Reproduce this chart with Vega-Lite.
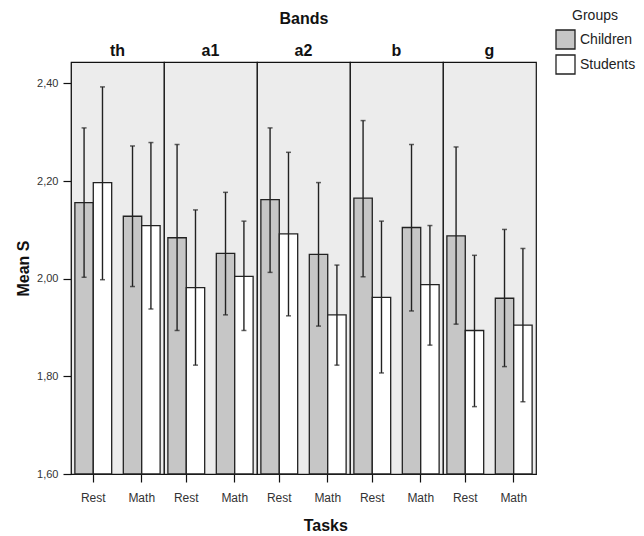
{
  "$schema": "https://vega.github.io/schema/vega-lite/v6.json",
  "padding": {"left": 15, "top": 9, "right": 5, "bottom": 5},
  "background": "white",
  "bounds": "flush",
  "config": {
    "font": "Liberation Sans",
    "view": {"stroke": "#111", "strokeWidth": 1.2, "fill": "#ececec"}
  },
  "title": {"text": "Tasks", "orient": "bottom", "fontSize": 16, "fontWeight": "bold", "color": "#111", "offset": 15, "anchor": "middle"},
  "data": {"values": [
    {"band": "th", "task": "Rest", "group": "Children", "mean": 2.156, "lo": 2.003, "hi": 2.309},
    {"band": "th", "task": "Rest", "group": "Students", "mean": 2.197, "lo": 1.998, "hi": 2.393},
    {"band": "th", "task": "Math", "group": "Children", "mean": 2.128, "lo": 1.984, "hi": 2.272},
    {"band": "th", "task": "Math", "group": "Students", "mean": 2.109, "lo": 1.938, "hi": 2.279},
    {"band": "a1", "task": "Rest", "group": "Children", "mean": 2.084, "lo": 1.894, "hi": 2.275},
    {"band": "a1", "task": "Rest", "group": "Students", "mean": 1.982, "lo": 1.823, "hi": 2.141},
    {"band": "a1", "task": "Math", "group": "Children", "mean": 2.052, "lo": 1.926, "hi": 2.177},
    {"band": "a1", "task": "Math", "group": "Students", "mean": 2.005, "lo": 1.894, "hi": 2.118},
    {"band": "a2", "task": "Rest", "group": "Children", "mean": 2.162, "lo": 2.013, "hi": 2.309},
    {"band": "a2", "task": "Rest", "group": "Students", "mean": 2.092, "lo": 1.924, "hi": 2.259},
    {"band": "a2", "task": "Math", "group": "Children", "mean": 2.050, "lo": 1.903, "hi": 2.197},
    {"band": "a2", "task": "Math", "group": "Students", "mean": 1.926, "lo": 1.823, "hi": 2.028},
    {"band": "b", "task": "Rest", "group": "Children", "mean": 2.165, "lo": 2.004, "hi": 2.324},
    {"band": "b", "task": "Rest", "group": "Students", "mean": 1.962, "lo": 1.807, "hi": 2.118},
    {"band": "b", "task": "Math", "group": "Children", "mean": 2.105, "lo": 1.934, "hi": 2.275},
    {"band": "b", "task": "Math", "group": "Students", "mean": 1.988, "lo": 1.864, "hi": 2.109},
    {"band": "g", "task": "Rest", "group": "Children", "mean": 2.088, "lo": 1.907, "hi": 2.270},
    {"band": "g", "task": "Rest", "group": "Students", "mean": 1.894, "lo": 1.738, "hi": 2.048},
    {"band": "g", "task": "Math", "group": "Children", "mean": 1.960, "lo": 1.820, "hi": 2.101},
    {"band": "g", "task": "Math", "group": "Students", "mean": 1.905, "lo": 1.748, "hi": 2.062}
  ]},
  "facet": {
    "column": {
      "field": "band", "type": "nominal", "sort": ["th", "a1", "a2", "b", "g"],
      "title": "Bands",
      "header": {
        "titleFontSize": 16, "titleFontWeight": "bold", "titleColor": "#111", "titlePadding": 6,
        "labelFontSize": 16, "labelFontWeight": "bold", "labelColor": "#111", "labelPadding": 3
      }
    }
  },
  "spacing": 0,
  "spec": {
    "width": 93,
    "height": 412,
    "encoding": {
      "x": {
        "field": "task", "type": "nominal", "sort": ["Rest", "Math"],
        "scale": {"paddingInner": 0.24, "paddingOuter": 0.08},
        "axis": {"title": null, "labelAngle": 0, "labelFontSize": 12, "labelColor": "#333", "tickColor": "#111", "tickSize": 8, "tickWidth": 1.2, "domainColor": "#111", "domainWidth": 1.2, "labelPadding": 10}
      },
      "xOffset": {"field": "group", "type": "nominal", "sort": ["Children", "Students"]}
    },
    "layer": [
      {
        "mark": {"type": "bar", "stroke": "#222", "strokeWidth": 1.3},
        "encoding": {
          "y": {
            "field": "mean", "type": "quantitative",
            "scale": {"domain": [1.6, 2.444], "nice": false, "zero": false},
            "axis": {
              "title": "Mean S", "titleFontSize": 16, "titleFontWeight": "bold", "titleColor": "#111", "titlePadding": 5,
              "values": [1.6, 1.8, 2.0, 2.2, 2.4],
              "labelExpr": "replace(format(datum.value, '.2f'), '.', ',')",
              "labelFontSize": 11, "labelColor": "#333", "labelPadding": 5, "tickColor": "#111", "tickSize": 8, "tickWidth": 1.2, "domainColor": "#111", "domainWidth": 1.2, "grid": false
            }
          },
          "y2": {"datum": 1.6},
          "fill": {
            "field": "group", "type": "nominal",
            "scale": {"domain": ["Children", "Students"], "range": ["#c6c6c6", "#ffffff"]},
            "legend": {
              "orient": "none", "legendX": 484, "legendY": -53,
              "title": "Groups", "titleFontSize": 14, "titleFontWeight": "normal", "titleColor": "#222", "titlePadding": 6, "titleAnchor": "middle",
              "labelFontSize": 14, "labelColor": "#222", "labelOffset": 4,
              "symbolType": "square", "symbolSize": 361, "symbolStrokeColor": "#222", "symbolStrokeWidth": 1.3,
              "rowPadding": 0
            }
          }
        }
      },
      {
        "mark": {"type": "rule", "color": "#222", "strokeWidth": 1.4},
        "encoding": {
          "y": {"field": "lo", "type": "quantitative"},
          "y2": {"field": "hi"}
        }
      },
      {
        "mark": {"type": "tick", "color": "#222", "size": 5, "thickness": 1.5},
        "encoding": {"y": {"field": "lo", "type": "quantitative"}}
      },
      {
        "mark": {"type": "tick", "color": "#222", "size": 5, "thickness": 1.5},
        "encoding": {"y": {"field": "hi", "type": "quantitative"}}
      }
    ]
  }
}
